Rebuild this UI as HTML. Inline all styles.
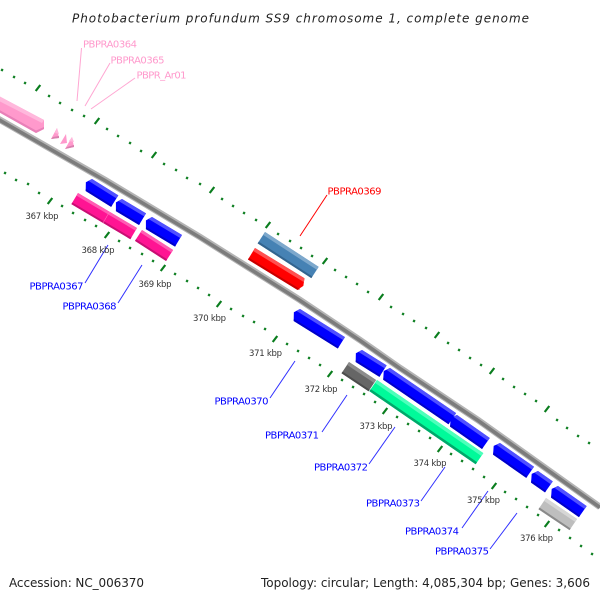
<!DOCTYPE html>
<html>
<head>
<meta charset="utf-8">
<style>
html,body{margin:0;padding:0;background:#fff}
svg{display:block}
text{font-family:"DejaVu Sans","Liberation Sans",sans-serif}
.k{font-size:8.5px;fill:#333}
.l{font-size:10px}
.b{fill:#0000ff}.p{fill:#ff99cc}
</style>
</head>
<body>
<svg width="600" height="600" viewBox="0 0 600 600" xmlns="http://www.w3.org/2000/svg">
<rect width="600" height="600" fill="#fff"/>
<text x="72" y="22.500" font-size="12" font-style="italic" fill="#222" textLength="457" lengthAdjust="spacing">Photobacterium profundum SS9 chromosome 1, complete genome</text>

<!-- dotted scale lines -->
<path fill="none" stroke="#0a7d1e" stroke-width="2.2" d="M1.4 71l1.3-2M13.4 78l1.3-2M24.4 84l1.3-2M48.400 97l1.3-2M59.400 104l1.3-2M71.400 111l1.3-2M83.400 117l1.3-2M106.400 130l1.3-2M117.400 137l1.3-2M129.400 144l1.3-2M140.400 152l1.3-2M163.400 165l1.3-2M175.400 171l1.3-2M186.400 179l1.3-2M199.400 185l1.3-2M221.400 200l1.3-2M232.400 207l1.3-2M243.400 214l1.3-2M255.400 221l1.3-2M277.400 235l1.3-2M289.400 242l1.3-2M300.400 249l1.3-2M311.400 257l1.3-2M334.400 271l1.3-2M345.400 278l1.3-2M356.400 285l1.3-2M367.400 293l1.3-2M390.400 308l1.3-2M402.400 315l1.3-2M413.400 322l1.3-2M425.400 329l1.3-2M447.400 344l1.3-2M458.400 351l1.3-2M469.400 359l1.3-2M480.400 366l1.3-2M502.400 380l1.3-2M513.400 388l1.3-2M524.400 395l1.3-2M535.400 402l1.3-2M556.400 421l1.3-2M566.400 429l1.3-2M577.400 437l1.3-2M588.400 444l1.3-2"/>
<path fill="none" stroke="#0a7d1e" stroke-width="2.2" d="M4.400 174l1.3-2M15.400 181l1.3-2M27.400 185l1.3-2M38.400 194l1.3-2M61.400 207l1.3-2M72.400 214l1.3-2M84.400 221l1.3-2M95.400 227l1.3-2M118.400 242l1.3-2M129.400 249l1.3-2M141.400 255l1.3-2M152.400 262l1.3-2M174.400 275l1.3-2M186.400 282l1.3-2M197.400 289l1.3-2M208.400 296l1.3-2M230.400 310l1.3-2M242.400 317l1.3-2M253.400 323l1.3-2M264.400 330l1.3-2M286.400 345l1.3-2M297.400 352l1.3-2M308.400 359l1.3-2M319.400 366l1.3-2M341.400 381l1.3-2M352.400 388l1.3-2M363.400 395l1.3-2M374.400 403l1.3-2M396.400 418l1.3-2M407.400 425l1.3-2M418.400 432l1.3-2M429.400 439l1.3-2M450.400 455l1.3-2M461.400 462l1.3-2M472.400 470l1.3-2M483.400 478l1.3-2M504.400 493l1.3-2M515.400 500l1.3-2M526.400 508l1.3-2M537.400 516l1.3-2M558.400 531l1.3-2M569.400 539l1.3-2M580.400 547l1.3-2M591.400 555l1.3-2"/>
<path fill="none" stroke="#0a7d1e" stroke-width="2.2" d="M35.700 91l4.600-6M94.700 124l4.600-6M151.700 158l4.600-6M209.700 193l4.600-6M265.700 228l4.600-6M322.700 264l4.600-6M378.700 300l4.600-6M434.700 338l4.600-6M489.700 374l4.600-6M544.700 412l4.600-6M47.700 204l4.600-6M104.700 238l4.600-6M160.700 271l4.600-6M216.700 307l4.600-6M272.700 342l4.600-6M327.700 377l4.600-6M382.700 414l4.600-6M437.700 452l4.600-6M491.700 489l4.600-6M544.700 527l4.600-6"/>

<!-- backbone -->
<path fill="none" stroke="#b4b4b4" stroke-width="6.500" d="M-5 117L105 180L200 237L300 300L360 340L400 368L478 420L600 507"/>
<path fill="none" stroke="#7c7c7c" stroke-width="3.600" d="M-5 117.500L105 180.500L200 237.500L300 300.500L360 340.500L400 368.500L478 420.500L600 507.500"/>

<!-- pink genes -->
<polygon points="-5,94 44,120 44,129 36,133 -5,110" fill="#ff99cc"/>
<polygon points="-5,94 44,120 42,123 -5,99" fill="#ffb8dc"/>
<polygon points="-5,110 36,133 44,129 44,127 36,130.500 -5,107.500" fill="#e880b8"/>
<polygon points="57,128 59,138 51,139" fill="#ff99cc"/>
<polygon points="66,134 67,143 60,144" fill="#ff99cc"/>
<polygon points="72,137 74,147 65,149" fill="#ff99cc"/>
<polygon points="57,128 59,134 55,133" fill="#ffb8dc"/>
<polygon points="72,137 74,142 69,141" fill="#ffb8dc"/>
<polygon points="51,139 59,138 59,136 53,137" fill="#d87fae"/>
<polygon points="65,149 74,147 74,145 67,147" fill="#d87fae"/>

<!-- blue genes -->
<g id="blue">
<g transform="translate(92 179) rotate(32)"><polygon points="0,0 31,0 31,13.500 1,13.500 -3.500,6" fill="#0000ff"/><polygon points="0,0 31,0 31,3.500 -2,3.500" fill="#5050ff"/><polygon points="1,13.500 31,13.500 31,11.500 0,11.500" fill="#0000c8"/></g>
<g transform="translate(122 199) rotate(31)"><polygon points="0,0 28,0 28,13.500 1,13.500 -3.500,6" fill="#0000ff"/><polygon points="0,0 28,0 28,3.500 -2,3.500" fill="#5050ff"/><polygon points="1,13.500 28,13.500 28,11.500 0,11.500" fill="#0000c8"/></g>
<g transform="translate(152 217) rotate(31)"><polygon points="0,0 35,0 35,13.500 1,13.500 -3.500,6" fill="#0000ff"/><polygon points="0,0 35,0 35,3.500 -2,3.500" fill="#5050ff"/><polygon points="1,13.500 35,13.500 35,11.500 0,11.500" fill="#0000c8"/></g>
<g transform="translate(300 309) rotate(32)"><polygon points="0,0 53,0 53,13.500 1,13.500 -3.500,6" fill="#0000ff"/><polygon points="0,0 53,0 53,3.500 -2,3.500" fill="#5050ff"/><polygon points="1,13.500 53,13.500 53,11.500 0,11.500" fill="#0000c8"/></g>
<g transform="translate(362 350) rotate(32)"><polygon points="0,0 29,0 29,13.500 1,13.500 -3.500,6" fill="#0000ff"/><polygon points="0,0 29,0 29,3.500 -2,3.500" fill="#5050ff"/><polygon points="1,13.500 29,13.500 29,11.500 0,11.500" fill="#0000c8"/></g>
<g transform="translate(390 368) rotate(34.300)"><polygon points="0,0 80,0 80,13.500 1,13.500 -3.500,6" fill="#0000ff"/><polygon points="0,0 80,0 80,3.500 -2,3.500" fill="#5050ff"/><polygon points="1,13.500 80,13.500 80,11.500 0,11.500" fill="#0000c8"/></g>
<g transform="translate(457 415) rotate(35)"><polygon points="0,0 40,0 40,13.500 1,13.500 -3.500,6" fill="#0000ff"/><polygon points="0,0 40,0 40,3.500 -2,3.500" fill="#5050ff"/><polygon points="1,13.500 40,13.500 40,11.500 0,11.500" fill="#0000c8"/></g>
<g transform="translate(500 443) rotate(35)"><polygon points="0,0 41.500,0 41.500,13.500 1,13.500 -3.500,6" fill="#0000ff"/><polygon points="0,0 41.500,0 41.500,3.500 -2,3.500" fill="#5050ff"/><polygon points="1,13.500 41.500,13.500 41.500,11.500 0,11.500" fill="#0000c8"/></g>
<g transform="translate(538 471) rotate(35)"><polygon points="0,0 18,0 18,13.500 1,13.500 -3.500,6" fill="#0000ff"/><polygon points="0,0 18,0 18,3.500 -2,3.500" fill="#5050ff"/><polygon points="1,13.500 18,13.500 18,11.500 0,11.500" fill="#0000c8"/></g>
<g transform="translate(558 486) rotate(35)"><polygon points="0,0 35,0 35,13.500 1,13.500 -3.500,6" fill="#0000ff"/><polygon points="0,0 35,0 35,3.500 -2,3.500" fill="#5050ff"/><polygon points="1,13.500 35,13.500 35,11.500 0,11.500" fill="#0000c8"/></g>
</g>

<!-- magenta -->
<g transform="translate(78 193) rotate(30.700)"><rect width="68.600" height="13" fill="#ff1493"/><rect width="68.600" height="3" fill="#ff5cb3"/><rect y="11" width="68.600" height="2" fill="#c70f73"/><rect x="36.500" width="0.500" height="13" fill="#ff7cc0"/></g>
<g transform="translate(142 230) rotate(32.800)"><rect width="37" height="13" fill="#ff1493"/><rect width="37" height="3" fill="#ff5cb3"/><rect y="11" width="37" height="2" fill="#c70f73"/></g>
<!-- steel blue -->
<g transform="translate(265 232) rotate(33)"><rect width="64" height="13.500" fill="#4682b4"/><rect width="64" height="3.500" fill="#7da8cc"/><rect y="11.500" width="64" height="2" fill="#33648e"/></g>
<!-- red -->
<g transform="translate(255 248) rotate(31.500)"><polygon points="0,0 58,0 61,7 58,13.500 0,13.500" fill="#ff0000"/><polygon points="0,0 58,0 59.500,3.500 0,3.500" fill="#ff5050"/><polygon points="0,11.500 60,11.500 58,13.500 0,13.500" fill="#c80000"/></g>
<!-- dark gray -->
<g transform="translate(349 362) rotate(33.700)"><rect width="32.500" height="13.500" fill="#666"/><rect width="32.500" height="3.500" fill="#8c8c8c"/><rect y="11.500" width="32.500" height="2" fill="#4c4c4c"/></g>
<!-- green -->
<g transform="translate(377 380) rotate(34.500)"><rect width="129" height="13.500" fill="#00fa9a"/><rect width="129" height="3.500" fill="#4dffbb"/><rect y="11" width="129" height="2.500" fill="#00a86a"/></g>
<!-- light gray -->
<g transform="translate(546 498) rotate(34)"><rect width="37.500" height="13.500" fill="#bebebe"/><rect width="37.500" height="3.500" fill="#d6d6d6"/><rect y="11.500" width="37.500" height="2" fill="#8a8a8a"/></g>

<!-- connectors -->
<g fill="none" stroke-width="1">
<path stroke="#ffa6d2" d="M81.500 48L77 101M110 63L85 106M135 78L91 109"/>
<path stroke="#ff0000" d="M327 195L300 236"/>
<path stroke="#3030ff" d="M85 283L108 245M118 303L142 265M270 398L295 361M322 432L347 395M369 464L395 427M421 501L445 467M462 528L488 491M490 549L517 513"/>
</g>

<!-- kbp labels -->
<text class="k" x="25.500" y="219" textLength="33">367 kbp</text>
<text class="k" x="81.500" y="253" textLength="33">368 kbp</text>
<text class="k" x="138.500" y="287" textLength="33">369 kbp</text>
<text class="k" x="193" y="321" textLength="33">370 kbp</text>
<text class="k" x="249" y="356" textLength="33">371 kbp</text>
<text class="k" x="304.500" y="392" textLength="33">372 kbp</text>
<text class="k" x="359.500" y="429" textLength="33">373 kbp</text>
<text class="k" x="413.500" y="466" textLength="33">374 kbp</text>
<text class="k" x="467" y="503" textLength="33">375 kbp</text>
<text class="k" x="520" y="541" textLength="33">376 kbp</text>

<!-- gene labels -->
<text class="l p" x="83" y="47.500" textLength="54">PBPRA0364</text>
<text class="l p" x="110.500" y="63.500" textLength="54">PBPRA0365</text>
<text class="l p" x="136.500" y="78.500" textLength="50">PBPR_Ar01</text>
<text class="l" fill="#ff0000" x="327.500" y="194.500" textLength="54">PBPRA0369</text>
<text class="l b" x="29.500" y="289.500" textLength="54">PBPRA0367</text>
<text class="l b" x="62.500" y="309.500" textLength="54">PBPRA0368</text>
<text class="l b" x="214.500" y="404.500" textLength="54">PBPRA0370</text>
<text class="l b" x="265" y="438.500" textLength="54">PBPRA0371</text>
<text class="l b" x="314" y="470.500" textLength="54">PBPRA0372</text>
<text class="l b" x="366" y="506.500" textLength="54">PBPRA0373</text>
<text class="l b" x="405" y="534.500" textLength="54">PBPRA0374</text>
<text class="l b" x="435" y="554.500" textLength="54">PBPRA0375</text>

<text x="9" y="587" font-size="12" fill="#222" textLength="135" lengthAdjust="spacing">Accession: NC_006370</text>
<text x="261" y="587" font-size="12" fill="#222" textLength="329" lengthAdjust="spacing">Topology: circular; Length: 4,085,304 bp; Genes: 3,606</text>
</svg>
</body>
</html>
